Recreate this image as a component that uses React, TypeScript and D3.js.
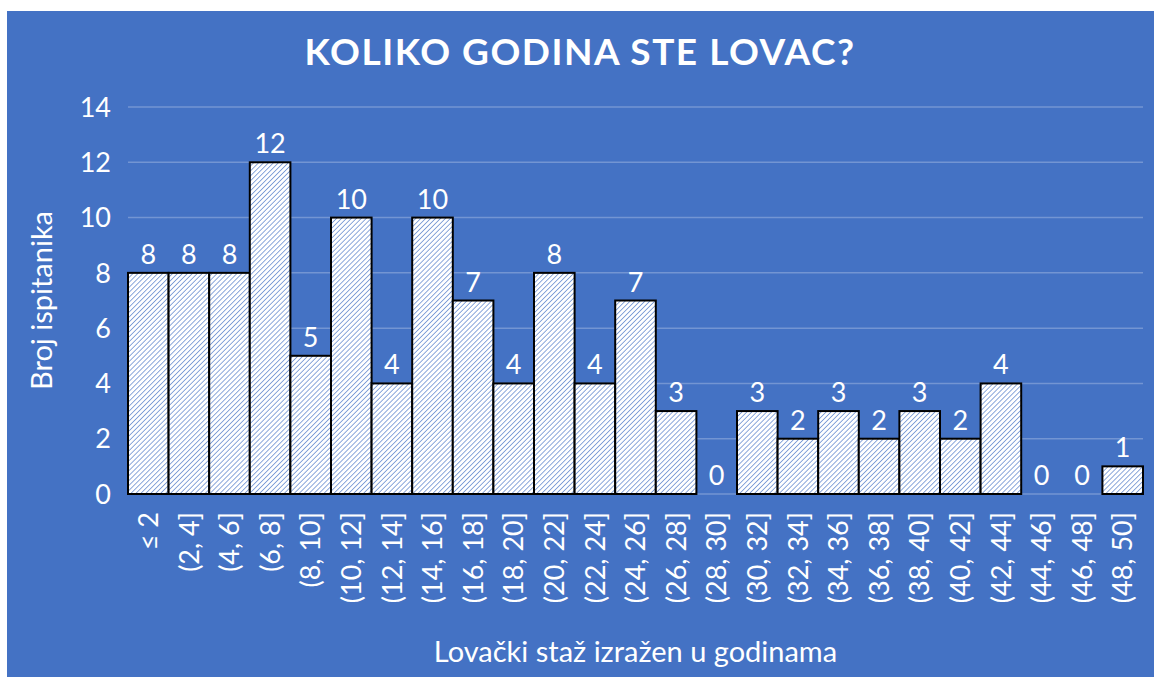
import { useId } from 'react';
import * as d3 from 'd3';

const categories = [
  '≤ 2', '(2, 4]', '(4, 6]', '(6, 8]', '(8, 10]', '(10, 12]', '(12, 14]', '(14, 16]', '(16, 18]',
  '(18, 20]', '(20, 22]', '(22, 24]', '(24, 26]', '(26, 28]', '(28, 30]', '(30, 32]', '(32, 34]',
  '(34, 36]', '(36, 38]', '(38, 40]', '(40, 42]', '(42, 44]', '(44, 46]', '(46, 48]', '(48, 50]',
];
const counts = [8, 8, 8, 12, 5, 10, 4, 10, 7, 4, 8, 4, 7, 3, 0, 3, 2, 3, 2, 3, 2, 4, 0, 0, 1];
const yTicks = [0, 2, 4, 6, 8, 10, 12, 14];

const WIDTH = 1154;
const HEIGHT = 677;
const BLUE = '#4472C4';
const FONT = 'Lato, "Open Sans", sans-serif';
const margin = { top: 107, right: 11, bottom: 183, left: 128 };

export default function App() {
  const patternId = useId().replace(/:/g, '');
  const x = d3.scaleBand<string>()
    .domain(categories)
    .range([margin.left, WIDTH - margin.right])
    .paddingInner(0)
    .paddingOuter(0);
  const y = d3.scaleLinear()
    .domain([0, 14])
    .range([HEIGHT - margin.bottom, margin.top]);
  const plotCenter = (margin.left + WIDTH - margin.right) / 2;

  return (
    <svg
      width={WIDTH}
      height={HEIGHT}
      style={{ position: 'absolute', left: 0, top: 0, background: '#fff' }}
      fontFamily={FONT}
    >
      <defs>
        <pattern id={patternId} width={3.5} height={3.5} patternUnits="userSpaceOnUse" patternTransform="rotate(45)">
          <rect width={3.5} height={3.5} fill="#fff" />
          <line x1={0} y1={0} x2={0} y2={3.5} stroke="#5a83cc" strokeWidth={1.4} />
        </pattern>
      </defs>
      <rect x={7} y={11} width={WIDTH - 7} height={HEIGHT - 11} fill={BLUE} />

      <text x={580} y={65} textAnchor="middle" fill="#fff" fontSize={37} fontWeight={700} letterSpacing={1.5}>
        KOLIKO GODINA STE LOVAC?
      </text>

      {yTicks.map((tick) => (
        <g key={tick}>
          {tick > 0 && (
            <line x1={margin.left} x2={WIDTH - margin.right} y1={y(tick)} y2={y(tick)} stroke="#fff" strokeOpacity={0.25} strokeWidth={1.5} />
          )}
          <text x={111} y={y(tick)} dy="0.36em" textAnchor="end" fill="#fff" fontSize={27}>{tick}</text>
        </g>
      ))}
      <line x1={margin.left} x2={WIDTH - margin.right} y1={y(0)} y2={y(0)} stroke="#fff" strokeOpacity={0.25} strokeWidth={1.5} />

      {categories.map((cat, i) => {
        const bx = x(cat) ?? 0;
        const v = counts[i];
        return (
          <g key={cat}>
            {v > 0 && (
              <rect x={bx} y={y(v)} width={x.bandwidth()} height={y(0) - y(v)} fill={`url(#${patternId})`} stroke="#000" strokeWidth={2} />
            )}
            <text x={bx + x.bandwidth() / 2} y={y(v) - 9} textAnchor="middle" fill="#fff" fontSize={27}>{v}</text>
            <text
              transform={`translate(${bx + x.bandwidth() / 2},${y(0) + 18}) rotate(-90)`}
              dy="0.36em"
              textAnchor="end"
              fill="#fff"
              fontSize={27}
            >
              {cat}
            </text>
          </g>
        );
      })}

      <text transform={`translate(42,${(y(0) + y(14)) / 2}) rotate(-90)`} dy="0.36em" textAnchor="middle" fill="#fff" fontSize={29}>
        Broj ispitanika
      </text>
      <text x={plotCenter} y={662} textAnchor="middle" fill="#fff" fontSize={29}>
        Lovački staž izražen u godinama
      </text>
    </svg>
  );
}
